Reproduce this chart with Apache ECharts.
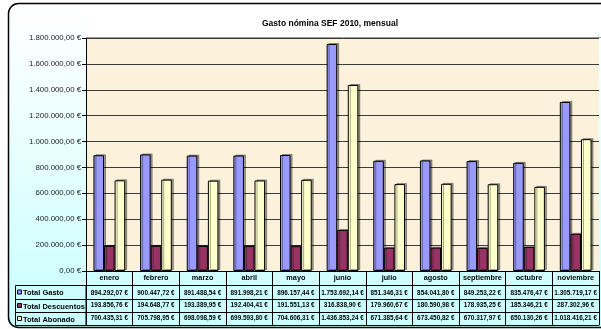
<!DOCTYPE html>
<html>
<head>
<meta charset="utf-8">
<script src="https://cdn.jsdelivr.net/npm/echarts@6/dist/echarts.min.js"></script>
<style>
html,body{margin:0;padding:0;background:#fff;}
#c{width:601px;height:329px;}
</style>
</head>
<body>
<div id="c"></div>
<script>
const titleText = 'Gasto nómina SEF 2010, mensual';
const months = ['enero','febrero','marzo','abril','mayo','junio','julio','agosto','septiembre','octubre','noviembre'];
const seriesNames = ['Total Gasto','Total Descuentos','Total Abonado'];
const totalGasto = [894292.07, 900447.72, 891488.54, 891998.21, 896157.44, 1753692.14, 851346.31, 854041.80, 849253.22, 835476.47, 1305719.17];
const totalDescuentos = [193856.76, 194648.77, 193389.95, 192404.41, 191551.13, 316838.90, 179960.67, 180590.98, 178935.25, 185346.21, 287302.96];
const totalAbonado = [700435.31, 705798.95, 698098.59, 699593.80, 704606.31, 1436853.24, 671385.64, 673450.82, 670317.97, 650130.26, 1018416.21];
const yTicks = [0, 200000, 400000, 600000, 800000, 1000000, 1200000, 1400000, 1600000, 1800000];
const colors = ['#9999ff', '#993366', '#ffffcc'];

function fmt(v) {
  const p = v.toFixed(2).split('.');
  return p[0].replace(/\B(?=(\d{3})+(?!\d))/g, '.') + ',' + p[1] + ' €';
}

const seriesData = [totalGasto, totalDescuentos, totalAbonado];
const FONT = '"Liberation Sans", Arial, sans-serif';

const chart = echarts.init(document.getElementById('c'), null, {renderer: 'canvas'});

const rowOffsets = [0, 14, 28, 41, 54];
const rowMargins = [3, 5, 3.5, 3.5];

const xAxes = rowOffsets.map((off, i) => {
  const base = {
    type: 'category', gridIndex: 0, data: months, position: 'bottom', offset: off,
    boundaryGap: true,
    axisLine: {show: true, lineStyle: {color: '#000', width: 1}},
    axisTick: {show: i === 0, length: 54, alignWithLabel: false, lineStyle: {color: '#000', width: 1}},
    splitLine: {show: false},
    axisLabel: {show: i < 4, interval: 0, margin: rowMargins[i] || 0, color: '#000', fontFamily: FONT,
      fontWeight: 'bold', fontSize: i === 0 ? 7.3 : 6.4}
  };
  if (i >= 1 && i <= 3) {
    const arr = seriesData[i - 1];
    base.axisLabel.formatter = (val, idx) => fmt(arr[idx]);
  }
  return base;
});

// legend column of data table
const legendGraphics = [];
const rowTops = [285, 299, 312];
const rowHeights = [14, 13, 13];
for (let i = 0; i < 3; i++) {
  legendGraphics.push({
    type: 'rect', z: 10,
    shape: {x: 15.5, y: rowTops[i] + 0.5, width: 70.5, height: rowHeights[i]},
    style: {fill: 'none', stroke: '#000', lineWidth: 1}
  });
  legendGraphics.push({
    type: 'rect', z: 11,
    shape: {x: 17.5, y: rowTops[i] + rowHeights[i] / 2 - 2, width: 4, height: 4},
    style: {fill: colors[i], stroke: '#000', lineWidth: 1}
  });
  legendGraphics.push({
    type: 'text', z: 11, x: 23, y: rowTops[i] + rowHeights[i] / 2 + 1,
    style: {text: seriesNames[i], fill: '#000', font: 'bold 7.5px ' + FONT, verticalAlign: 'middle', align: 'left'}
  });
}

const option = {
  animation: false,
  backgroundColor: '#ffffff',
  title: {
    text: titleText, left: 257, top: 14,
    textStyle: {fontFamily: FONT, fontWeight: 'bold', fontSize: 8.5, color: '#000'}
  },
  grid: {
    left: 86, right: 2, top: 38, bottom: 58, containLabel: false,
    show: true, backgroundColor: '#fcf2dc', borderWidth: 0
  },
  graphic: [
    {
      type: 'rect', z: -10,
      shape: {x: 8.5, y: 3.5, width: 700, height: 324, r: 10},
      style: {
        stroke: '#000', lineWidth: 1.5,
        fill: new echarts.graphic.LinearGradient(0, 0, 0, 1, [
          {offset: 0, color: '#ffffff'},
          {offset: 0.3, color: '#f0ffff'},
          {offset: 1, color: '#c8ffff'}
        ])
      }
    },
    {
      type: 'rect', z: -9,
      shape: {x: 86, y: 5, width: 520, height: 32.5},
      style: {fill: '#ffffff'}
    },
    {
      type: 'line', z: 5,
      shape: {x1: 86, y1: 37.5, x2: 601, y2: 37.5},
      style: {stroke: '#999', lineWidth: 1}
    }
  ].concat(legendGraphics),
  xAxis: xAxes,
  yAxis: {
    type: 'value', min: 0, max: 1800000, interval: 200000,
    axisLine: {show: true, lineStyle: {color: '#000', width: 1}},
    axisTick: {show: true, length: 4, lineStyle: {color: '#000'}},
    splitLine: {show: true, lineStyle: {color: '#3a3a3a', width: 1}},
    axisLabel: {
      margin: 5, color: '#222', fontFamily: FONT, fontSize: 7.8,
      formatter: v => fmt(v)
    }
  },
  series: seriesNames.map((n, i) => ({
    name: n, type: 'bar', xAxisIndex: 0, data: seriesData[i],
    barGap: '0%', barCategoryGap: '32%',
    itemStyle: {
      color: colors[i], borderColor: '#000', borderWidth: 1,
      shadowColor: 'rgba(0,0,0,0.35)', shadowOffsetX: 2, shadowOffsetY: -1, shadowBlur: 0
    }
  }))
};
chart.setOption(option);
</script>
</body>
</html>
